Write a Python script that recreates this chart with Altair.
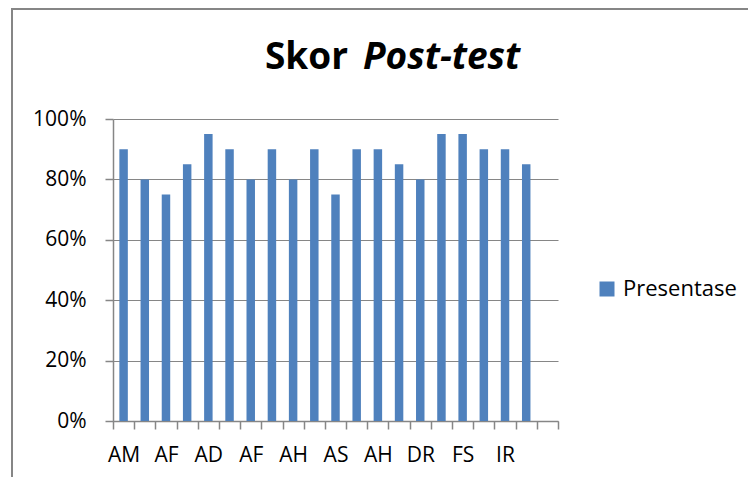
import altair as alt
import pandas as pd

# ---- data ----
tick_labels = ["AM", "", "AF", "", "AD", "", "AF", "", "AH", "", "AS", "", "AH", "", "DR", "", "FS", "", "IR", "", ""]
values = [0.90, 0.80, 0.75, 0.85, 0.95, 0.90, 0.80, 0.90, 0.80, 0.90,
          0.75, 0.90, 0.90, 0.85, 0.80, 0.95, 0.95, 0.90, 0.90, 0.85]
y_ticks = [0, 0.2, 0.4, 0.6, 0.8, 1.0]
series_name = "Presentase"
title_plain = "Skor"
title_italic = "Post-test"

positions = list(range(1, len(tick_labels) + 1))
df = pd.DataFrame({
    "pos": positions[:len(values)],
    "value": values,
    "series": [series_name] * len(values),
})

FONT = "Open Sans"
GRAY = "#868686"
BLUE = "#4F81BD"

label_js = "[" + ",".join("'" + s + "'" for s in tick_labels) + "][datum.value - 1]"

bars = alt.Chart(df).mark_bar(width=alt.RelativeBandSize(0.4)).encode(
    x=alt.X("pos:O",
            scale=alt.Scale(domain=positions, paddingInner=0, paddingOuter=0),
            axis=alt.Axis(title=None, labelExpr=label_js, labelAngle=0, tickBand="extent",
                          grid=False, labelPadding=15, labelOverlap=False)),
    y=alt.Y("value:Q",
            scale=alt.Scale(domain=[0, 1], nice=False),
            axis=alt.Axis(title=None, format="%", values=y_ticks, labelPadding=19)),
    color=alt.Color("series:N",
                    scale=alt.Scale(domain=[series_name], range=[BLUE]),
                    legend=alt.Legend(title=None, orient="none", legendX=483, legendY=159,
                                      symbolType="square", symbolSize=225, symbolStrokeWidth=0,
                                      labelFontSize=22, labelFont=FONT, labelColor="#000",
                                      labelOffset=5, padding=0)),
)

t1 = alt.Chart(pd.DataFrame({"t": [title_plain]})).mark_text(
    align="right", baseline="alphabetic", font=FONT, fontSize=37, fontWeight="bold", color="#000"
).encode(text="t:N", x=alt.value(235), y=alt.value(-50))

t2 = alt.Chart(pd.DataFrame({"t": [title_italic]})).mark_text(
    align="left", baseline="alphabetic", font=FONT, fontSize=37, fontWeight="bold",
    fontStyle="italic", color="#000"
).encode(text="t:N", x=alt.value(250), y=alt.value(-50))

frame_left = alt.Chart(pd.DataFrame({"a": [0]})).mark_rule(color=GRAY, strokeWidth=2).encode(
    x=alt.value(-101), y=alt.value(-110), y2=alt.value(380))
frame_top = alt.Chart(pd.DataFrame({"a": [0]})).mark_rule(color=GRAY, strokeWidth=2).encode(
    x=alt.value(-102), x2=alt.value(700), y=alt.value(-110))

chart = alt.layer(bars, frame_left, frame_top, t1, t2).properties(
    width=445, height=302,
    background="white",
    autosize=alt.AutoSizeParams(type="none"),
    padding={"left": 105, "top": 111, "right": 190, "bottom": 56},
).configure_view(
    strokeWidth=0, stroke="transparent"
).configure_axis(
    domain=True, ticks=True, domainColor=GRAY, domainWidth=1.5, tickColor=GRAY, tickWidth=1.5,
    tickSize=8, gridColor=GRAY, gridWidth=1.2, labelFontSize=21, labelFont=FONT, labelColor="#000"
)

chart.save("out.html", embed_options={"renderer": "svg", "actions": False})
